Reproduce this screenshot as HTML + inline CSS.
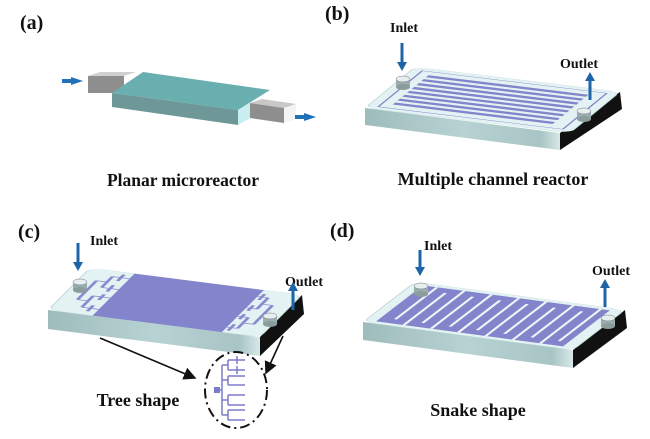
<!DOCTYPE html>
<html><head><meta charset="utf-8"><style>
html,body{margin:0;padding:0;background:#fff}
svg{display:block}
text{font-family:"Liberation Serif",serif;font-weight:bold;fill:#111}
</style></head><body>
<svg width="650" height="439" viewBox="0 0 650 439" xmlns="http://www.w3.org/2000/svg">
<defs>
<linearGradient id="front" x1="0" y1="0" x2="1" y2="0">
<stop offset="0" stop-color="#9fbcbc"/><stop offset="0.5" stop-color="#b7d2d2"/><stop offset="0.9" stop-color="#a8c4c4"/><stop offset="1" stop-color="#d8e8e8"/>
</linearGradient>
<g id="cyl">
<rect x="-7" y="0" width="14" height="8" fill="#9aaeae"/>
<ellipse cx="0" cy="8" rx="7" ry="3" fill="#8a9c9c"/>
<ellipse cx="0" cy="0" rx="7" ry="3" fill="#e6eeee" stroke="#778" stroke-width="0.5"/>
</g>
<marker id="ah" markerWidth="8" markerHeight="8" refX="7" refY="4" orient="auto"><path d="M0,0 L8,4 L0,8 z" fill="#111"/></marker>
</defs>

<!-- (a) -->
<text x="20" y="29" font-size="20">(a)</text>
<polygon points="88,76 100,72 136,72 124,76" fill="#d0d0d0"/>
<polygon points="88,76 124,76 124,93 88,93" fill="#8e8e8e"/>
<polygon points="250,103 262,99 296,104 284,108" fill="#c8c8c8"/>
<polygon points="250,103 284,108 284,123 250,118" fill="#8e8e8e"/>
<polygon points="284,108 296,104 296,119 284,123" fill="#f4f4f4"/>
<polygon points="143,72 270,90 238,110 112,93" fill="#69afaf"/>
<polygon points="112,93 238,110 238,125 112,107" fill="#6e9898"/>
<polygon points="238,110 250,103 250,118 238,125" fill="#c8eef0"/>
<polygon points="62,79 71,79 71,77 83,81 71,85 71,83 62,83" fill="#2270b8"/>
<polygon points="295,115 304,115 304,113 316,117 304,121 304,119 295,119" fill="#2270b8"/>
<text x="183" y="186" font-size="17.5" text-anchor="middle">Planar microreactor</text>

<!-- (b) -->
<text x="325" y="20" font-size="20">(b)</text>
<text x="404" y="32" font-size="14" text-anchor="middle">Inlet</text>
<text x="579" y="68" font-size="14" text-anchor="middle">Outlet</text>
<polygon points="365,108 560,133 560,150 365,125" fill="url(#front)"/>
<polygon points="560,133 620,92 622,109 560,150" fill="#111"/>
<g transform="matrix(2.05,0.25,-0.5,0.41,415,67)">
<rect x="0" y="0" width="100" height="100" rx="8" fill="#e3f2f2" stroke="#b9d4d4" stroke-width="0.5"/>
<rect x="5" y="6" width="90" height="88" fill="none" stroke="#7c7cc4" stroke-width="0.8"/>
<g fill="#8384cc">
<rect x="10" y="14" width="78" height="5"/><rect x="10" y="23.5" width="78" height="5"/>
<rect x="10" y="33" width="78" height="5"/><rect x="10" y="42.5" width="78" height="5"/>
<rect x="10" y="52" width="78" height="5"/><rect x="10" y="61.5" width="78" height="5"/>
<rect x="10" y="71" width="78" height="5"/><rect x="10" y="80.5" width="78" height="5"/>
</g>
</g>
<use href="#cyl" x="403" y="79"/>
<use href="#cyl" x="584" y="111"/>
<rect x="400.5" y="43" width="3" height="20" fill="#1e64a8"/><polygon points="397,62 407,62 402,71" fill="#1e64a8"/>
<rect x="588.5" y="80" width="3" height="20" fill="#1e64a8"/><polygon points="585,81 595,81 590,72" fill="#1e64a8"/>
<text x="493" y="185" font-size="18" text-anchor="middle">Multiple channel reactor</text>

<!-- (c) -->
<text x="18" y="238" font-size="20">(c)</text>
<text x="104" y="245" font-size="14" text-anchor="middle">Inlet</text>
<text x="304" y="286" font-size="14" text-anchor="middle">Outlet</text>
<polygon points="48,310 260,337 260,356 48,329" fill="url(#front)"/>
<polygon points="260,337 302,295 304,314 260,356" fill="#111"/>
<g transform="matrix(2.12,0.27,-0.42,0.42,90,268)">
<rect x="0" y="0" width="100" height="100" rx="8" fill="#e3f2f2" stroke="#b9d4d4" stroke-width="0.5"/>
<rect x="21" y="0" width="61" height="100" fill="#8384cc"/>
<g fill="none" stroke="#8a8ad0" stroke-width="1.6">
<path d="M4,45 H8 M8,25 V70 M8,25 H13 M8,70 H13 M13,12 V38 M13,58 V85 M13,12 H21 M13,38 H21 M13,58 H21 M13,85 H21 M17,5 V20 M17,30 V45 M17,52 V65 M17,78 V92"/>
<path d="M96,55 H92 M92,30 V75 M92,30 H87 M92,75 H87 M87,15 V42 M87,62 V88 M87,15 H82 M87,42 H82 M87,62 H82 M87,88 H82 M84,8 V22 M84,35 V48 M84,56 V68 M84,80 V95"/>
</g>
</g>
<use href="#cyl" x="80" y="282"/>
<use href="#cyl" x="270" y="316"/>
<rect x="76.5" y="243" width="3" height="20" fill="#1e64a8"/><polygon points="73,262 83,262 78,271" fill="#1e64a8"/>
<rect x="291.5" y="290" width="3" height="20" fill="#1e64a8"/><polygon points="288,291 298,291 293,282" fill="#1e64a8"/>
<line x1="100" y1="338" x2="195" y2="378" stroke="#111" stroke-width="1.6" marker-end="url(#ah)"/>
<line x1="283" y1="336" x2="266" y2="373" stroke="#111" stroke-width="1.6" marker-end="url(#ah)"/>
<ellipse cx="236" cy="390" rx="31" ry="38" fill="none" stroke="#111" stroke-width="2" stroke-dasharray="10,4,2,4"/>
<g fill="none" stroke="#7b7cc8" stroke-width="1.5">
<path d="M217,390 H222 M222,365 V415 M222,365 H228 M222,380 H228 M222,400 H228 M222,415 H228 M228,360 V370 M228,376 V385 M228,395 V405 M228,410 V420 M228,360 H245 M228,370 H245 M228,376 H245 M228,385 H245 M228,395 H245 M228,405 H245 M228,410 H245 M228,420 H245 M237,356 V364 M237,366 V374"/>
</g>
<rect x="214" y="387" width="6" height="6" fill="#7b7cc8"/>
<text x="138" y="406" font-size="18" text-anchor="middle">Tree shape</text>

<!-- (d) -->
<text x="330" y="237" font-size="20">(d)</text>
<text x="438" y="250" font-size="14" text-anchor="middle">Inlet</text>
<text x="611" y="275" font-size="14" text-anchor="middle">Outlet</text>
<polygon points="363,322 573,350 573,368 363,340" fill="url(#front)"/>
<polygon points="573,350 625,310 627,328 573,368" fill="#111"/>
<g transform="matrix(2.1,0.28,-0.52,0.40,415,282)">
<rect x="0" y="0" width="100" height="100" rx="8" fill="#e3f2f2" stroke="#b9d4d4" stroke-width="0.5"/>
<rect x="5" y="5" width="89" height="90" fill="#8384cc"/>
<g fill="#eef4f8">
<rect x="11" y="5" width="1.4" height="80"/><rect x="17.5" y="15" width="1.4" height="80"/>
<rect x="24" y="5" width="1.4" height="80"/><rect x="30.5" y="15" width="1.4" height="80"/>
<rect x="37" y="5" width="1.4" height="80"/><rect x="43.5" y="15" width="1.4" height="80"/>
<rect x="50" y="5" width="1.4" height="80"/><rect x="56.5" y="15" width="1.4" height="80"/>
<rect x="63" y="5" width="1.4" height="80"/><rect x="69.5" y="15" width="1.4" height="80"/>
<rect x="76" y="5" width="1.4" height="80"/><rect x="82.5" y="15" width="1.4" height="80"/>
<rect x="89" y="5" width="1.4" height="80"/>
</g>
</g>
<use href="#cyl" x="421" y="286"/>
<use href="#cyl" x="608" y="318"/>
<rect x="418.5" y="250" width="3" height="18" fill="#1e64a8"/><polygon points="415,267 425,267 420,276" fill="#1e64a8"/>
<rect x="603.5" y="287" width="3" height="20" fill="#1e64a8"/><polygon points="600,288 610,288 605,279" fill="#1e64a8"/>
<text x="478" y="416" font-size="18" text-anchor="middle">Snake shape</text>
</svg>
</body></html>
